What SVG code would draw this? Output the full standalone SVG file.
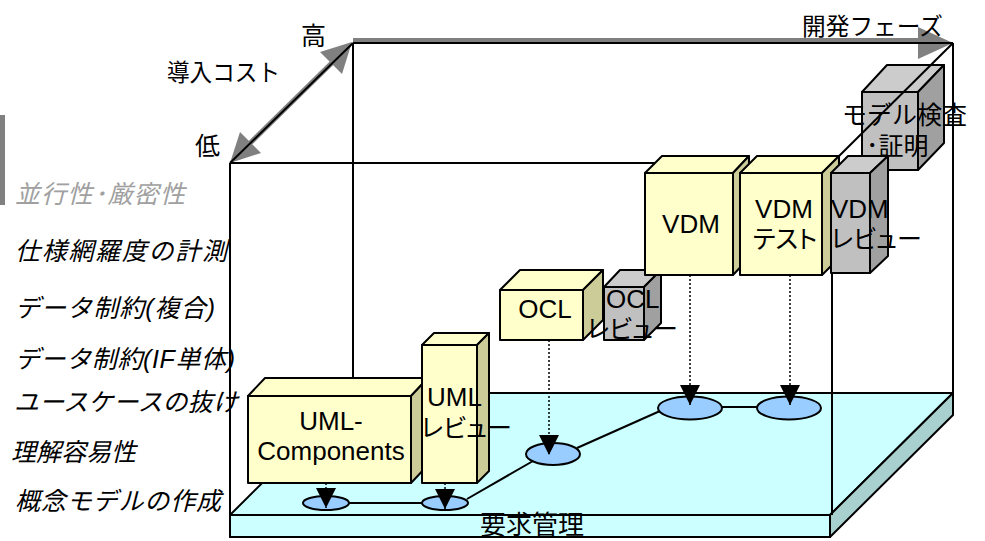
<svg xmlns="http://www.w3.org/2000/svg" width="985" height="541" viewBox="0 0 985 541">
<defs>
<style>
text{font-family:'Liberation Sans','Noto Sans CJK JP',sans-serif;font-feature-settings:"palt";fill:#000}
.lbl{font-size:26px}
.jp{font-size:25px}
.side{font-size:25px;font-style:italic;font-feature-settings:normal}
.hd{font-size:24px;font-feature-settings:normal}
.yf{fill:#ffffcc;stroke:#000;stroke-width:2;stroke-linejoin:round}
.ys{fill:#cccc99;stroke:#000;stroke-width:2;stroke-linejoin:round}
.gf{fill:#c0c0c0;stroke:#000;stroke-width:2;stroke-linejoin:round}
.gt{fill:#cccccc;stroke:#000;stroke-width:2;stroke-linejoin:round}
.gs{fill:#a0a0a0;stroke:#000;stroke-width:2;stroke-linejoin:round}
.fr{stroke:#000;stroke-width:2;fill:none}
.ell{fill:#99ccff;stroke:#000;stroke-width:2}
.con{stroke:#000;stroke-width:2;fill:none}
.dot{stroke:#000;stroke-width:1.5;stroke-dasharray:2 2;fill:none;marker-end:url(#ah)}
</style>
<marker id="ah" markerUnits="userSpaceOnUse" markerWidth="20" markerHeight="20" refX="20" refY="10" orient="auto">
<path d="M0,0 L20,10 L0,20 z" fill="#000"/>
</marker>
</defs>
<rect width="985" height="541" fill="#fff"/>

<!-- axis labels -->
<g id="axes">
<rect x="0" y="115" width="5" height="90" fill="#808080"/>
<line x1="353" y1="40" x2="922" y2="40" stroke="#808080" stroke-width="4"/>
<polygon points="918,27 953,43 918,59" fill="#808080"/>
<line x1="238" y1="155" x2="345" y2="50" stroke="#808080" stroke-width="5"/>
<polygon points="230,163 240,132 261,153" fill="#808080"/>
<polygon points="352,42 320,52 342,74" fill="#808080"/>
<text class="hd" x="301" y="45" style="font-size:25px">高</text>
<text class="hd" x="167" y="81" textLength="113" lengthAdjust="spacingAndGlyphs">導入コスト</text>
<text class="hd" x="195" y="155" style="font-size:25px">低</text>
<text class="hd" x="802" y="35" textLength="141" lengthAdjust="spacingAndGlyphs">開発フェーズ</text>
</g>

<g id="side-labels">
<text class="side" x="15" y="203" style="fill:#a0a0a0" textLength="170">並行性･厳密性</text>
<text class="side" x="15" y="260" textLength="212">仕様網羅度の計測</text>
<text class="side" x="15" y="317" textLength="200">データ制約(複合)</text>
<text class="side" x="15" y="368" textLength="220">データ制約(IF単体)</text>
<text class="side" x="14" y="411" textLength="224">ユースケースの抜け</text>
<text class="side" x="11" y="461" textLength="125">理解容易性</text>
<text class="side" x="15" y="510" textLength="206">概念モデルの作成</text>
</g>

<!-- model check box (behind frame) -->
<g id="model-check">
<rect class="gf" x="862" y="92" width="56" height="78"/>
<polygon class="gt" points="862,92 887,65 944,65 918,92"/>
<polygon class="gs" points="918,92 944,65 944,143 918,170"/>
<text class="jp" x="842" y="124" style="font-feature-settings:normal">モデル検査</text>
<text class="jp" x="866" y="155" style="font-feature-settings:normal">･証明</text>
</g>

<!-- floor -->
<g id="floor">
<polygon points="230,515 830,515 953,393 353,393" fill="#ccffff" stroke="#000" stroke-width="2" stroke-linejoin="round"/>
<rect x="230" y="515" width="600" height="22" fill="#ccffff" stroke="#000" stroke-width="2"/>
<polygon points="830,515 953,393 953,415 830,537" fill="#a8d0ce" stroke="#000" stroke-width="2" stroke-linejoin="round"/>
<text class="jp" x="532" y="534" text-anchor="middle" style="font-size:26px">要求管理</text>
</g>

<!-- frame -->
<g id="frame" class="fr">
<line x1="353" y1="43" x2="953" y2="43"/>
<line x1="353" y1="43" x2="353" y2="393"/>
<line x1="953" y1="43" x2="953" y2="393"/>
<line x1="230" y1="163" x2="353" y2="43"/>
<line x1="953" y1="43" x2="832" y2="163"/>
<line x1="230" y1="163" x2="832" y2="163"/>
<line x1="230" y1="163" x2="230" y2="515"/>
<line x1="832" y1="163" x2="832" y2="515"/>
</g>

<!-- requirement ellipses -->
<g id="req1"><ellipse class="ell" cx="326" cy="503" rx="23" ry="7"/></g>
<g id="req2"><ellipse class="ell" cx="445" cy="503" rx="23" ry="7"/></g>
<g id="req3"><ellipse class="ell" cx="553" cy="454" rx="27" ry="11"/></g>
<g id="req4"><ellipse class="ell" cx="690" cy="408" rx="32" ry="11.5"/></g>
<g id="req5"><ellipse class="ell" cx="789" cy="408" rx="32" ry="11.5"/></g>

<!-- connectors -->
<g id="connectors">
<line class="con" x1="349" y1="503" x2="422" y2="503"/>
<line class="con" x1="467" y1="499" x2="533" y2="461"/>
<line class="con" x1="577" y1="448" x2="660" y2="411"/>
<line class="con" x1="722" y1="407" x2="757" y2="407"/>
<line class="dot" x1="326" y1="483" x2="326" y2="508"/>
<line class="dot" x1="445" y1="483" x2="445" y2="509"/>
<line class="dot" x1="549" y1="340" x2="549" y2="455"/>
<line class="dot" x1="690" y1="275" x2="690" y2="405"/>
<line class="dot" x1="790" y1="275" x2="790" y2="405"/>
</g>

<!-- boxes -->
<g id="uml-components">
<rect class="yf" x="248" y="396" width="163" height="87"/>
<polygon class="yf" points="248,396 265,378 428,378 411,396"/>
<polygon class="ys" points="411,396 428,378 428,465 411,483"/>
<text class="lbl" x="331" y="430" text-anchor="middle">UML-</text>
<text class="lbl" x="331" y="460" text-anchor="middle">Components</text>
</g>

<g id="uml-review">
<rect class="yf" x="422" y="345" width="55" height="138"/>
<polygon class="yf" points="422,345 434,333 489,333 477,345"/>
<polygon class="ys" points="477,345 489,333 489,471 477,483"/>
<text class="lbl" x="427" y="406">UML</text>
<text class="jp" x="421" y="437">レビュー</text>
</g>

<g id="ocl">
<rect class="yf" x="500" y="290" width="83" height="50"/>
<polygon class="yf" points="500,290 520,270 603,270 583,290"/>
<polygon class="ys" points="583,290 603,270 603,320 583,340"/>
<text class="lbl" x="545" y="318" text-anchor="middle">OCL</text>
</g>

<g id="ocl-review">
<rect class="gf" x="604" y="287" width="40" height="53"/>
<polygon class="gt" points="604,287 620,270 661,270 644,287"/>
<polygon class="gs" points="644,287 661,270 661,323 644,340"/>
<text class="lbl" x="606" y="308">OCL</text>
<text class="jp" x="587" y="338">レビュー</text>
</g>

<g id="vdm">
<rect class="yf" x="645" y="173" width="88" height="102"/>
<polygon class="yf" points="645,173 662,156 749,156 733,173"/>
<polygon class="ys" points="733,173 749,156 749,258 733,275"/>
<text class="lbl" x="691" y="233" text-anchor="middle">VDM</text>
</g>

<g id="vdm-test">
<rect class="yf" x="740" y="173" width="82" height="102"/>
<polygon class="yf" points="740,173 757,156 839,156 822,173"/>
<polygon class="ys" points="822,173 839,156 839,258 822,275"/>
<text class="lbl" x="784" y="218" text-anchor="middle">VDM</text>
<text class="jp" x="785" y="248" text-anchor="middle">テスト</text>
</g>

<g id="vdm-review">
<rect class="gf" x="831" y="173" width="39" height="100"/>
<polygon class="gt" points="831,173 848,156 888,156 870,173"/>
<polygon class="gs" points="870,173 888,156 888,256 870,273"/>
<text class="lbl" x="831" y="218">VDM</text>
<text class="jp" x="831" y="248">レビュー</text>
</g>
</svg>
